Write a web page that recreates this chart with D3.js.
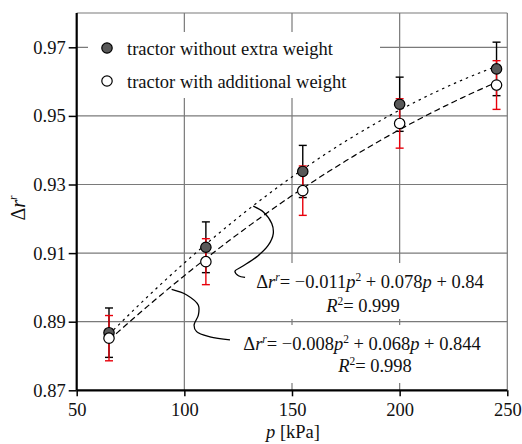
<!DOCTYPE html>
<html><head><meta charset="utf-8">
<script src="https://cdn.jsdelivr.net/npm/d3@7"></script>
<style>
html,body{margin:0;padding:0;background:#fff;}
svg{display:block;}
</style></head>
<body>
<svg id="chart" width="522" height="444"></svg>
<script>
// ---- data ----
const pressure = [65, 110, 155, 200, 245];               // kPa
const withoutWeight = [0.8868, 0.9117, 0.9338, 0.9534, 0.9637];
const errWithout    = [0.0072, 0.0074, 0.0076, 0.0079, 0.0078];
const withWeight    = [0.8852, 0.9075, 0.9282, 0.9478, 0.9590];
const errWith       = [0.0066, 0.0067, 0.0072, 0.0072, 0.0071];
const xTicks = [50, 100, 150, 200, 250];
const yTicks = [0.87, 0.89, 0.91, 0.93, 0.95, 0.97];
const seriesNames = ["tractor without extra weight", "tractor with additional weight"];
const eq1 = {a: "\u22120.011", b: "0.078", c: "0.84", r2: "0.999"};
const eq2 = {a: "\u22120.008", b: "0.068", c: "0.844", r2: "0.998"};
// annotation leader curves (data units: p, Δr)
const leader1 = [[132.0,0.9237],[136.7,0.9220],[140.6,0.9186],[141.3,0.9157],[139.0,0.9123],[133.6,0.9089],[126.6,0.9060],[123.5,0.9047],[125.1,0.9034],[128.2,0.9029]];
const leader2 = [[94.1,0.8994],[101.1,0.8978],[106.5,0.8948],[106.5,0.8919],[104.5,0.8890],[105.7,0.8871],[111.9,0.8856],[121.2,0.8847]];

// ---- layout ----
const svg = d3.select("#chart");
const M = {left: 76.7, top: 13, right: 507.3, bottom: 390.3};
const x = d3.scaleLinear().domain([50, 250]).range([M.left, M.right]);
const y = d3.scaleLinear().domain([0.87, 0.98]).range([M.bottom, M.top]);
const GRID = "#7a7a7a";
const FONT = "'Liberation Serif','Tinos','Times New Roman','DejaVu Serif',serif";
const FS = 18.5;

// grid
const g = svg.append("g");
g.selectAll("line.vg").data(xTicks.slice(1, -1)).join("line")
  .attr("x1", d => x(d)).attr("x2", d => x(d)).attr("y1", M.top).attr("y2", M.bottom)
  .attr("stroke", GRID).attr("stroke-width", 1.2);
g.selectAll("line.hg").data(yTicks.slice(1)).join("line")
  .attr("x1", M.left).attr("x2", M.right).attr("y1", d => y(d)).attr("y2", d => y(d))
  .attr("stroke", GRID).attr("stroke-width", 1.2);
g.append("line").attr("x1", M.left).attr("x2", M.right).attr("y1", M.top).attr("y2", M.top)
  .attr("stroke", GRID).attr("stroke-width", 1.2);
g.append("line").attr("x1", M.right).attr("x2", M.right).attr("y1", M.top).attr("y2", M.bottom)
  .attr("stroke", GRID).attr("stroke-width", 1.2);

// white boxes (legend, equations)
svg.append("rect").attr("x", 88).attr("y", 32).attr("width", 292).attr("height", 66).attr("fill", "#fff");
svg.append("rect").attr("x", 250).attr("y", 263).attr("width", 240).attr("height", 56).attr("fill", "#fff");
svg.append("rect").attr("x", 237).attr("y", 325).attr("width", 253).attr("height", 58).attr("fill", "#fff");

// axes
const xAxis = d3.axisBottom(x).tickValues(xTicks).tickSize(6).tickPadding(6).tickFormat(d3.format("d"));
const yAxis = d3.axisLeft(y).tickValues(yTicks).tickSize(8).tickPadding(3).tickFormat(d3.format(".2f"));
const gx = svg.append("g").attr("transform", `translate(0,${M.bottom})`).call(xAxis);
const gy = svg.append("g").attr("transform", `translate(${M.left},0)`).call(yAxis);
[gx, gy].forEach(a => {
  a.attr("font-family", FONT).attr("font-size", FS);
  a.select(".domain").attr("stroke", "#000").attr("stroke-width", 2.2);
  a.selectAll(".tick line").attr("stroke", "#000").attr("stroke-width", 1.5);
  a.selectAll(".tick text").attr("font-family", FONT).attr("font-size", FS).attr("fill", "#111");
});
gx.selectAll(".tick text").attr("dy", null).attr("y", 25.5);
gy.select(".domain").attr("d", `M0,${M.bottom}V${M.top}`);
gx.select(".domain").attr("d", `M${M.left},0H${M.right}`);

// quadratic least-squares fit of each series (u = p/100)
function quadFit(xs, ys) {
  let S = [0,0,0,0,0], T = [0,0,0];
  xs.forEach((xv, i) => {
    const u = xv / 100;
    for (let k = 0; k < 5; k++) S[k] += Math.pow(u, k);
    for (let k = 0; k < 3; k++) T[k] += ys[i] * Math.pow(u, k);
  });
  const A = [[S[0],S[1],S[2],T[0]],[S[1],S[2],S[3],T[1]],[S[2],S[3],S[4],T[2]]];
  for (let i = 0; i < 3; i++) {
    for (let j = i + 1; j < 3; j++) {
      const f = A[j][i] / A[i][i];
      for (let k = i; k < 4; k++) A[j][k] -= f * A[i][k];
    }
  }
  const c = [0,0,0];
  for (let i = 2; i >= 0; i--) {
    let s = A[i][3];
    for (let k = i + 1; k < 3; k++) s -= A[i][k] * c[k];
    c[i] = s / A[i][i];
  }
  return u => c[0] + c[1] * u + c[2] * u * u;
}
const f1 = quadFit(pressure, withoutWeight);
const f2 = quadFit(pressure, withWeight);
const pGrid = d3.range(pressure[0], pressure[pressure.length - 1] + 0.01, 2);
const line = d3.line().x(d => x(d[0])).y(d => y(d[1]));
svg.append("path").attr("d", line(pGrid.map(p => [p, f1(p / 100)])))
  .attr("fill", "none").attr("stroke", "#000").attr("stroke-width", 1.2).attr("stroke-dasharray", "2.5,4");
svg.append("path").attr("d", line(pGrid.map(p => [p, f2(p / 100)])))
  .attr("fill", "none").attr("stroke", "#000").attr("stroke-width", 1.2).attr("stroke-dasharray", "6,3.5");

// leader curves
const lc = d3.line().x(d => x(d[0])).y(d => y(d[1])).curve(d3.curveCatmullRom);
[leader1, leader2].forEach(L => svg.append("path").attr("d", lc(L))
  .attr("fill", "none").attr("stroke", "#000").attr("stroke-width", 1.3));

// error bars
function errBars(vals, errs, color) {
  const eg = svg.append("g").attr("stroke", color).attr("stroke-width", 1.4);
  pressure.forEach((p, i) => {
    const cx = x(p), y1 = y(vals[i] + errs[i]), y2 = y(vals[i] - errs[i]);
    eg.append("line").attr("x1", cx).attr("x2", cx).attr("y1", y1).attr("y2", y2);
    eg.append("line").attr("x1", cx - 4).attr("x2", cx + 4).attr("y1", y1).attr("y2", y1);
    eg.append("line").attr("x1", cx - 4).attr("x2", cx + 4).attr("y1", y2).attr("y2", y2);
  });
}
errBars(withoutWeight, errWithout, "#000");
errBars(withWeight, errWith, "#e8000b");

// markers
const FILL = "#595959";
svg.append("g").selectAll("circle").data(pressure).join("circle")
  .attr("cx", d => x(d)).attr("cy", (d, i) => y(withoutWeight[i])).attr("r", 5.2)
  .attr("fill", FILL).attr("stroke", "#000").attr("stroke-width", 1.2);
svg.append("g").selectAll("circle").data(pressure).join("circle")
  .attr("cx", d => x(d)).attr("cy", (d, i) => y(withWeight[i])).attr("r", 5.2)
  .attr("fill", "#fff").attr("stroke", "#000").attr("stroke-width", 1.2);

// legend
const lg = svg.append("g").attr("font-family", FONT);
seriesNames.forEach((name, i) => {
  const ly = 48 + i * 33;
  lg.append("circle").attr("cx", 107).attr("cy", ly).attr("r", 5.2)
    .attr("fill", i === 0 ? FILL : "#fff").attr("stroke", "#000").attr("stroke-width", 1.2);
  lg.append("text").attr("x", 127).attr("y", ly + 6.5).attr("font-size", FS).attr("fill", "#111").text(name);
});

// equations
const SUP = FS * 0.62, RISE = 7;
function equation(cx, by, e) {
  const t = svg.append("text").attr("x", cx).attr("y", by).attr("text-anchor", "middle")
    .attr("font-family", FONT).attr("font-size", FS).attr("fill", "#111");
  t.append("tspan").text("\u0394");
  t.append("tspan").attr("font-style", "italic").text("r");
  t.append("tspan").attr("font-style", "italic").attr("font-size", SUP).attr("dy", -RISE).text("r");
  t.append("tspan").attr("dy", RISE).text("= " + e.a);
  t.append("tspan").attr("font-style", "italic").text("p");
  t.append("tspan").attr("font-size", SUP).attr("dy", -RISE).text("2");
  t.append("tspan").attr("dy", RISE).text(" + " + e.b);
  t.append("tspan").attr("font-style", "italic").text("p");
  t.append("tspan").text(" + " + e.c);
}
function rsq(cx, by, v) {
  const t = svg.append("text").attr("x", cx).attr("y", by).attr("text-anchor", "middle")
    .attr("font-family", FONT).attr("font-size", FS).attr("fill", "#111");
  t.append("tspan").attr("font-style", "italic").text("R");
  t.append("tspan").attr("font-size", SUP).attr("dy", -RISE).text("2");
  t.append("tspan").attr("dy", RISE).text("= " + v);
}
equation(370, 288, eq1);
rsq(363, 311.5, eq1.r2);
equation(362, 350, eq2);
rsq(375, 371.5, eq2.r2);

// axis titles
const xt = svg.append("text").attr("x", 293).attr("y", 438).attr("text-anchor", "middle")
  .attr("font-family", FONT).attr("font-size", FS).attr("fill", "#111");
xt.append("tspan").attr("font-style", "italic").text("p");
xt.append("tspan").text(" [kPa]");
const yt = svg.append("text").attr("transform", "translate(25,208) rotate(-90)").attr("text-anchor", "middle")
  .attr("font-family", FONT).attr("font-size", FS + 1.5).attr("fill", "#111");
yt.append("tspan").text("\u0394");
yt.append("tspan").attr("font-style", "italic").text("r");
yt.append("tspan").attr("font-style", "italic").attr("font-size", SUP).attr("dy", -8).text("r");
</script>
</body></html>
